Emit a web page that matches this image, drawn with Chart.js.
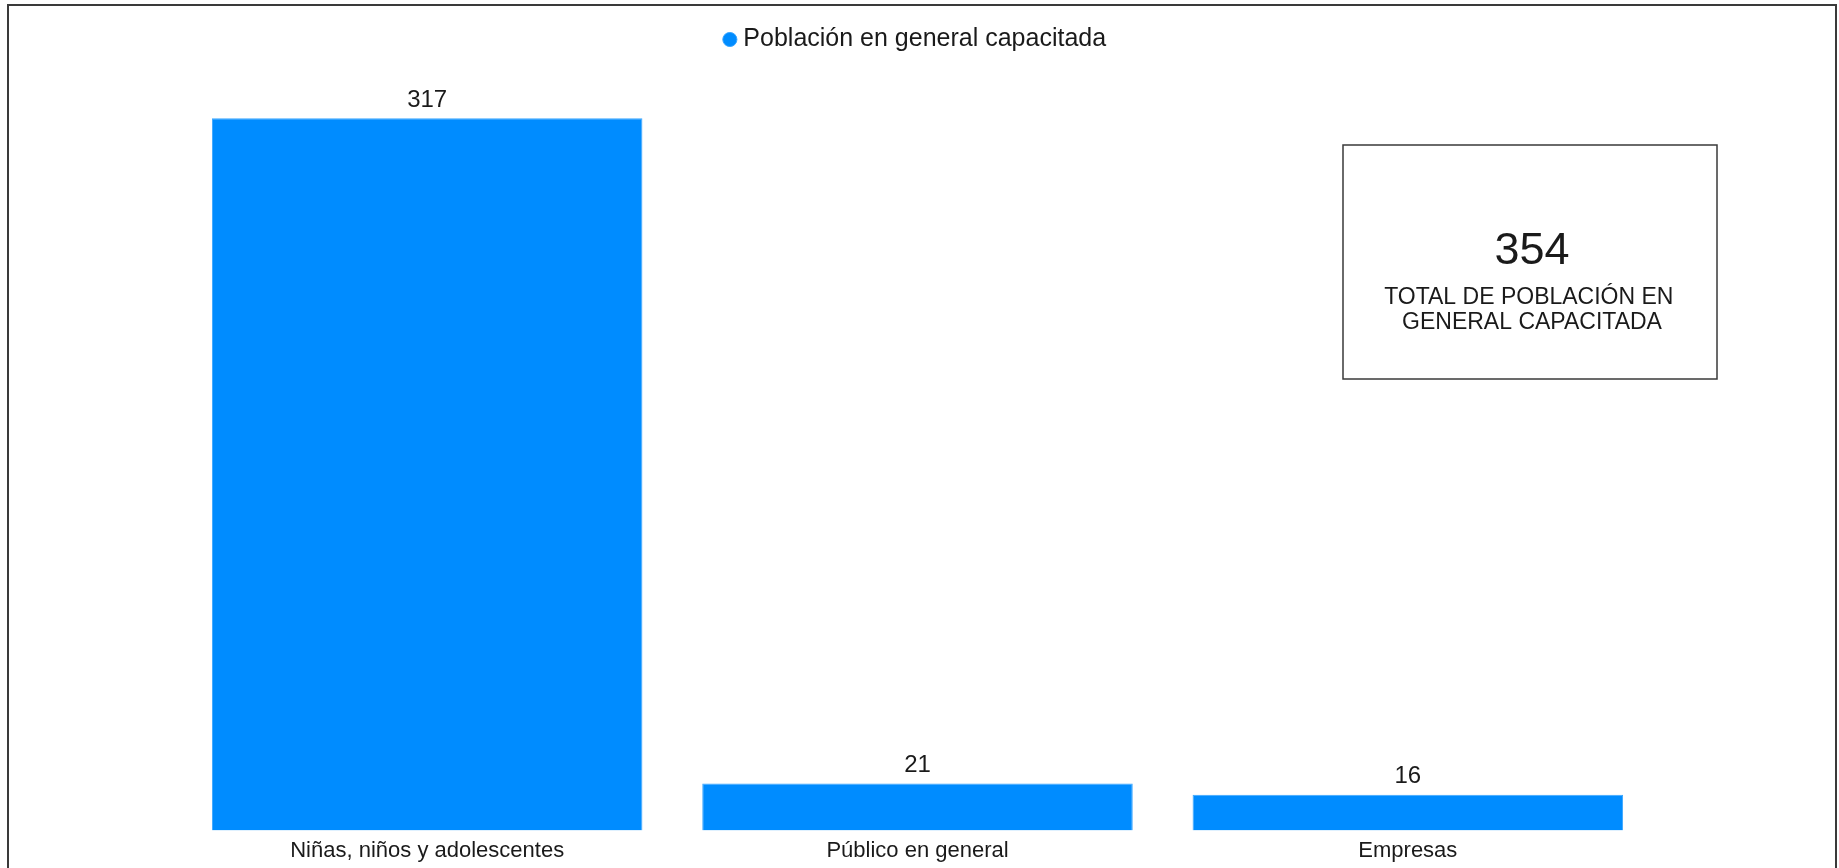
<!DOCTYPE html>
<html lang="es">
<head>
  <meta charset="UTF-8" />
  <title>Población en general capacitada</title>
  <script src="https://cdn.jsdelivr.net/npm/chart.js"></script>
  <style>
    html, body { margin: 0; padding: 0; background: #fff; overflow: hidden; }
    #marco {
      position: absolute; left: 7px; top: 4px; width: 1826px; height: 880px;
      border: 2px solid #3a3a3a;
    }
    #grafico { position: absolute; left: 0; top: 0; }
  </style>
</head>
<body>
  <div id="marco"></div>
  <canvas id="grafico" width="1839" height="868"></canvas>

  <script>
    const categorias = ['Niñas, niños y adolescentes', 'Público en general', 'Empresas'];
    const capacitados = [317, 21, 16];
    const nombreSerie = 'Población en general capacitada';
    // el espacio final viene del texto original (se nota en el centrado)
    const textoTotal = ['TOTAL DE POBLACIÓN EN ', 'GENERAL CAPACITADA'];

    const fuente = '"Liberation Sans", Arial, Helvetica, sans-serif';
    const total = capacitados.reduce((a, b) => a + b, 0);

    // valores encima de cada barra
    const etiquetasValor = {
      id: 'etiquetasValor',
      afterDatasetsDraw(chart) {
        const ctx = chart.ctx;
        const meta = chart.getDatasetMeta(0);
        ctx.save();
        ctx.fillStyle = '#1a1a1a';
        ctx.font = '24px ' + fuente;
        ctx.textAlign = 'center';
        ctx.textBaseline = 'middle';
        meta.data.forEach((barra, i) => {
          ctx.fillText(String(capacitados[i]), barra.x, barra.y - 18);
        });
        ctx.restore();
      }
    };

    // recuadro con el total
    const recuadroTotal = {
      id: 'recuadroTotal',
      afterDraw(chart) {
        const ctx = chart.ctx;
        const x = 1343, y = 145, w = 374, h = 234;
        const cx = 1532;
        ctx.save();
        ctx.strokeStyle = '#3a3a3a';
        ctx.lineWidth = 1.5;
        ctx.strokeRect(x, y, w, h);
        ctx.fillStyle = '#1a1a1a';
        ctx.textAlign = 'center';
        ctx.textBaseline = 'middle';
        ctx.font = '45px ' + fuente;
        ctx.fillText(String(total), cx, 252);
        ctx.font = '23px ' + fuente;
        ctx.fillText(textoTotal[0], cx, 298);
        ctx.fillText(textoTotal[1], cx, 323);
        ctx.restore();
      }
    };

    const ctx = document.getElementById('grafico').getContext('2d');
    new Chart(ctx, {
      type: 'bar',
      data: {
        labels: categorias,
        datasets: [{
          label: nombreSerie,
          data: capacitados,
          backgroundColor: '#008cff',
          borderColor: '#3aa6ff',
          borderWidth: 1,
          categoryPercentage: 1,
          barPercentage: 0.878
        }]
      },
      options: {
        responsive: false,
        animation: false,
        layout: { padding: { left: 182, right: 186, top: 17, bottom: -3 } },
        plugins: {
          legend: {
            display: true,
            position: 'top',
            labels: {
              usePointStyle: true,
              pointStyle: 'circle',
              boxWidth: 2,
              boxHeight: 10,
              color: '#1a1a1a',
              font: { family: fuente, size: 25 }
            }
          },
          tooltip: { enabled: false },
          title: { display: false }
        },
        scales: {
          x: {
            grid: { display: false, drawTicks: false },
            border: { display: false },
            ticks: {
              color: '#1a1a1a',
              padding: 7,
              font: { family: fuente, size: 22 }
            }
          },
          y: {
            display: false,
            beginAtZero: true,
            max: 342
          }
        }
      },
      plugins: [etiquetasValor, recuadroTotal]
    });
  </script>
</body>
</html>
